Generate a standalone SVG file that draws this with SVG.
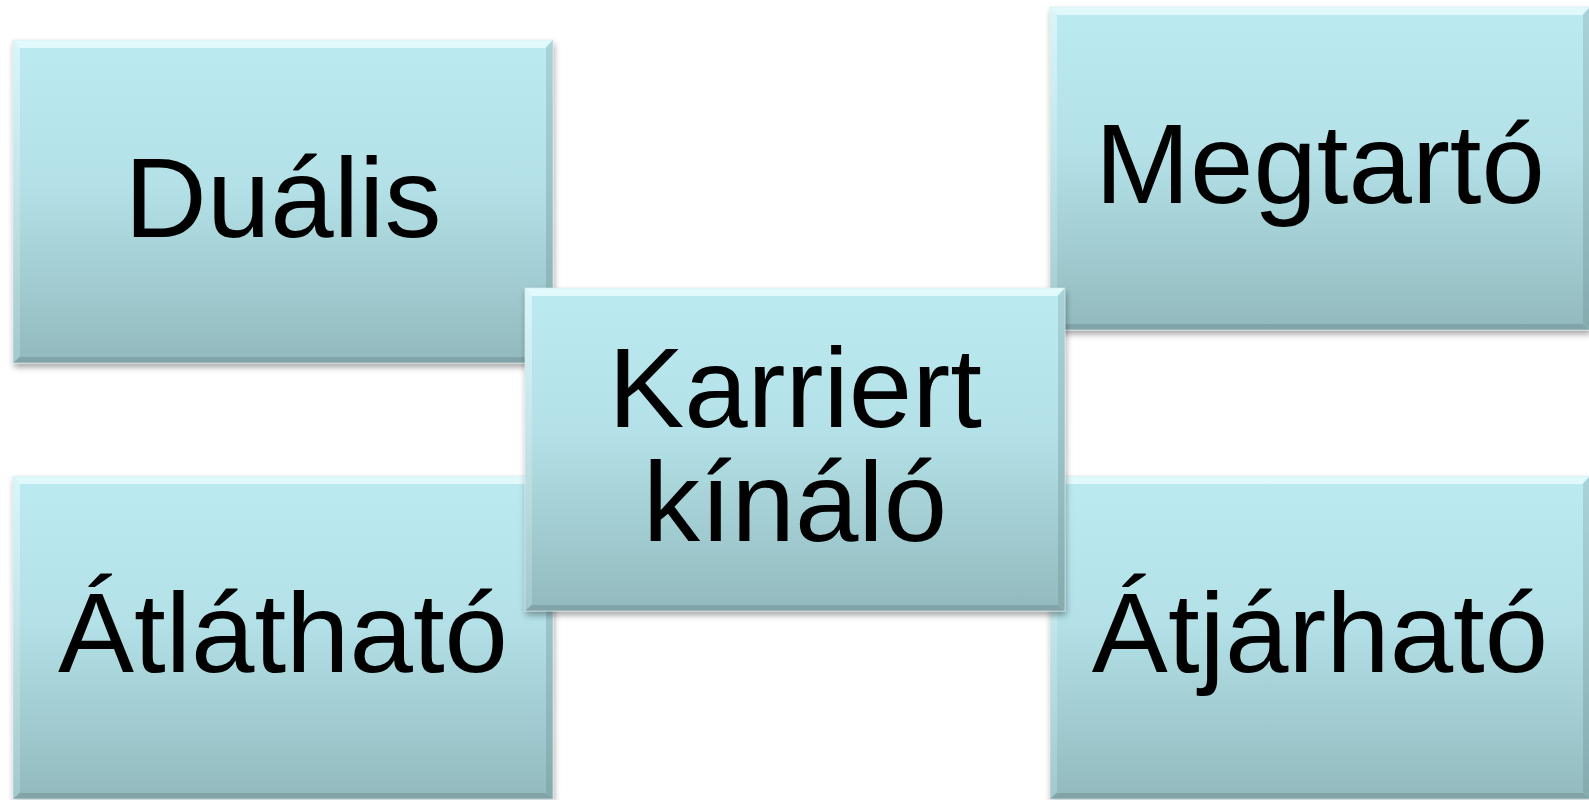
<svg xmlns="http://www.w3.org/2000/svg" width="1589" height="800" viewBox="0 0 1589 800">
<defs>
<linearGradient id="fill" x1="0" y1="0" x2="0" y2="1">
<stop offset="0" stop-color="#bbeaf0"/>
<stop offset="0.45" stop-color="#b3e1e7"/>
<stop offset="1" stop-color="#92babe"/>
</linearGradient>
<linearGradient id="lft" x1="0" y1="0" x2="0" y2="1">
<stop offset="0" stop-color="#e6fbfd"/>
<stop offset="1" stop-color="#a9cfd3"/>
</linearGradient>
<linearGradient id="rgt" x1="0" y1="0" x2="0" y2="1">
<stop offset="0" stop-color="#9fc8cd"/>
<stop offset="1" stop-color="#7fa4a8"/>
</linearGradient>
<filter id="sh" x="-5%" y="-5%" width="110%" height="115%">
<feGaussianBlur in="SourceAlpha" stdDeviation="3"/>
<feOffset dx="1" dy="4" result="b"/>
<feComponentTransfer><feFuncA type="linear" slope="0.35"/></feComponentTransfer>
<feMerge><feMergeNode/><feMergeNode in="SourceGraphic"/></feMerge>
</filter>
<g id="box">
<rect x="0" y="0" width="540" height="323" fill="url(#fill)"/>
<polygon points="0,0 540,0 532,8 7,8" fill="#e9fcfe" opacity="0.85"/>
<polygon points="0,0 7,8 7,316 0,323" fill="url(#lft)" opacity="0.7"/>
<polygon points="540,0 540,323 533,316 533,8" fill="url(#rgt)" opacity="0.7"/>
<polygon points="0,323 540,323 533,317 7,317" fill="#7e9fa2" opacity="0.8"/>
<rect x="0" y="0" width="540" height="323" fill="none" stroke="#d8e8ea" stroke-width="1" opacity="0.6"/>
</g>
</defs>
<style>
.t{font-family:"Liberation Sans",Arial,sans-serif;font-size:114px;fill:#000;text-anchor:middle}
</style>
<rect width="1589" height="800" fill="#ffffff"/>
<g id="connectors"/>
<g id="node-dualis" filter="url(#sh)">
<use href="#box" x="13" y="40"/>
<text class="t" x="283" y="237">Duális</text>
</g>
<g id="node-megtarto" filter="url(#sh)">
<use href="#box" x="1050" y="7"/>
<text class="t" x="1320" y="203">Megtartó</text>
</g>
<g id="node-atlathato" filter="url(#sh)">
<use href="#box" x="13" y="476"/>
<text class="t" x="283" y="672">Átlátható</text>
</g>
<g id="node-atjarhato" filter="url(#sh)">
<use href="#box" x="1050" y="476"/>
<text class="t" x="1320" y="672">Átjárható</text>
</g>
<g id="node-karriert" filter="url(#sh)">
<use href="#box" x="525" y="288"/>
<text class="t" x="795" y="427">Karriert<tspan x="795" dy="114">kínáló</tspan></text>
</g>
</svg>
